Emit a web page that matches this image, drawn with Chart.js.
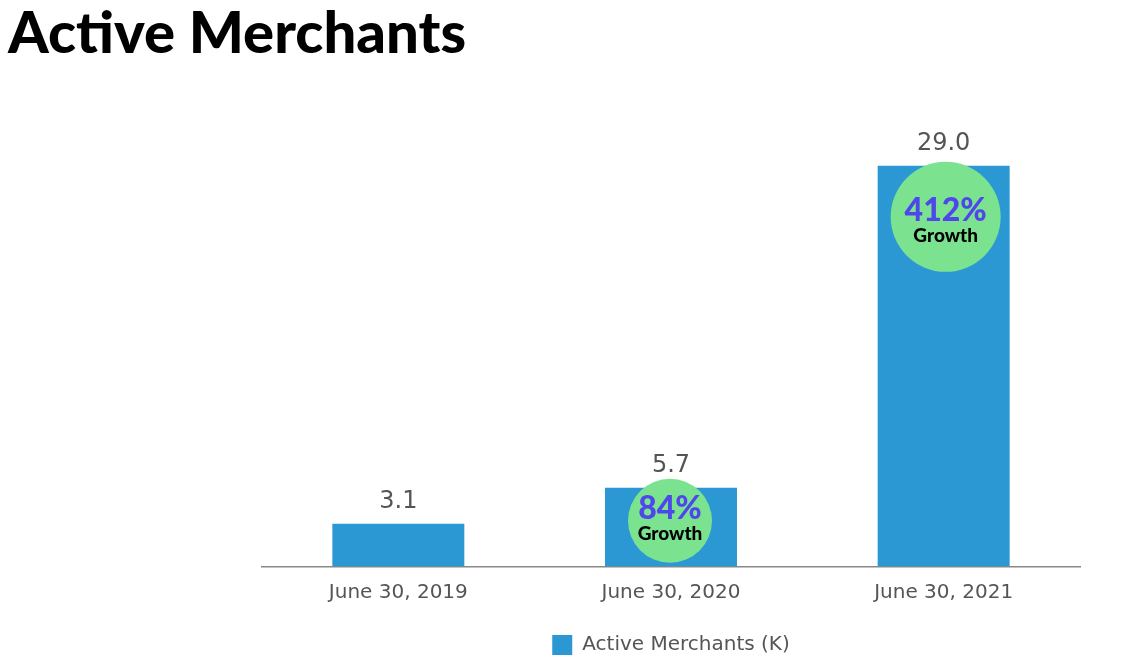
<!DOCTYPE html>
<html>
<head>
<meta charset="utf-8">
<script src="https://cdn.jsdelivr.net/npm/chart.js@4"></script>
<style>
  html, body { margin: 0; padding: 0; background: #fff; }
  #wrap { position: relative; width: 1136px; height: 666px; overflow: hidden; }
  #title {
    position: absolute; left: 8px; top: -4px; margin: 0;
    font-family: Lato, sans-serif; font-weight: 900; font-size: 58px;
    color: #000;
  }
  #chart { position: absolute; left: 0; top: 0; }
</style>
</head>
<body>
<div id="wrap">
  <h1 id="title">Active Merchants</h1>
  <canvas id="chart" width="1136" height="666"></canvas>
</div>
<script>
// --- Data ---
const categories = ['June 30, 2019', 'June 30, 2020', 'June 30, 2021'];
const merchants = [3.1, 5.7, 29.0];
const growthLabels = [null, '84%', '412%'];
const seriesName = 'Active Merchants (K)';

// Draw value labels above bars
const valueLabels = {
    id: 'valueLabels',
    afterDatasetsDraw(chart) {
        const ctx = chart.ctx;
        const meta = chart.getDatasetMeta(0);
        ctx.save();
        ctx.font = '24px "DejaVu Sans"';
        ctx.fillStyle = '#555';
        ctx.textAlign = 'center';
        ctx.textBaseline = 'bottom';
        meta.data.forEach((bar, i) => {
            ctx.fillText(merchants[i].toFixed(1), bar.x, bar.y - 10);
        });
        ctx.restore();
    }
};

// Green growth badges on top of bars
const growthBadges = {
    id: 'growthBadges',
    afterDatasetsDraw(chart) {
        const ctx = chart.ctx;
        const meta = chart.getDatasetMeta(0);
        ctx.save();
        meta.data.forEach((bar, i) => {
            const label = growthLabels[i];
            if (!label) return;
            const big = label.length > 3;
            const r = big ? 55 : 42;
            const cx = bar.x + (big ? 2 : -1);
            const cy = bar.y + (big ? 51 : 33);
            ctx.beginPath();
            ctx.arc(cx, cy, r, 0, Math.PI * 2);
            ctx.fillStyle = '#7be38f';
            ctx.fill();
            ctx.textAlign = 'center';
            ctx.textBaseline = 'alphabetic';
            ctx.fillStyle = '#4f46ec';
            ctx.font = '900 32px Lato';
            ctx.fillText(label, cx, cy + (big ? 4 : -2));
            ctx.fillStyle = '#000';
            ctx.font = '900 19px Lato';
            ctx.fillText('Growth', cx, cy + (big ? 25 : 19));
        });
        ctx.restore();
    }
};

new Chart(document.getElementById('chart'), {
    type: 'bar',
    data: {
        labels: categories,
        datasets: [{
            label: seriesName,
            data: merchants,
            backgroundColor: '#2b98d3',
            borderWidth: 0,
            categoryPercentage: 1,
            barPercentage: 0.484
        }]
    },
    options: {
        responsive: false,
        animation: false,
        layout: { padding: { left: 262, right: 56, top: 152, bottom: 1 } },
        scales: {
            x: {
                grid: { display: false, drawTicks: false },
                border: { display: true, color: '#888', width: 1.5 },
                ticks: { color: '#555', font: { family: '"DejaVu Sans"', size: 20 }, padding: 14 }
            },
            y: {
                display: false,
                min: 0,
                max: 30
            }
        },
        plugins: {
            legend: {
                position: 'bottom',
                labels: {
                    color: '#555',
                    font: { family: '"DejaVu Sans"', size: 20 },
                    boxWidth: 20,
                    boxHeight: 20,
                    padding: 16.5
                }
            },
            tooltip: { enabled: false }
        }
    },
    plugins: [valueLabels, growthBadges]
});
</script>
</body>
</html>
